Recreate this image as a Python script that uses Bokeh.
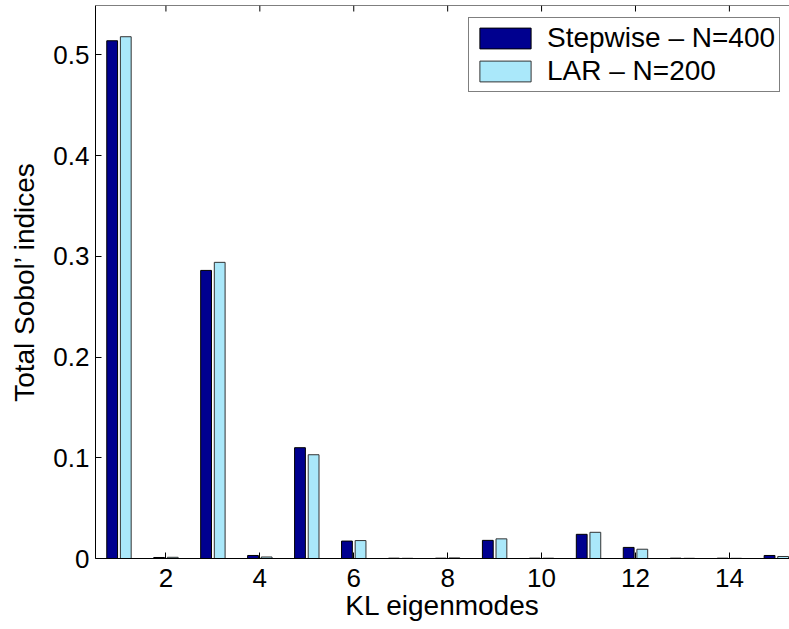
from bokeh.plotting import figure
from bokeh.models import ColumnDataSource, Range1d, FixedTicker, Legend, LegendItem, Span
from bokeh.transform import dodge
from bokeh.embed import file_html
from bokeh.resources import INLINE

modes = list(range(1, 16))
stepwise = [0.514, 0.001, 0.286, 0.003, 0.110, 0.0173, 0.0003, 0.0003, 0.018, 0.0003, 0.024, 0.011, 0.0003, 0.0003, 0.003]
lar = [0.518, 0.0012, 0.294, 0.0015, 0.103, 0.0178, 0.0002, 0.0006, 0.0195, 0.0003, 0.026, 0.0092, 0.0002, 0.0002, 0.002]
series_names = ["Stepwise \u2013 N=400", "LAR \u2013 N=200"]
xtick_vals = [2, 4, 6, 8, 10, 12, 14]
ytick_vals = [0, 0.1, 0.2, 0.3, 0.4, 0.5]
ytick_labels = ["0", "0.1", "0.2", "0.3", "0.4", "0.5"]
X_MIN, X_MAX = 0.5, 15.28
Y_MIN, Y_MAX = 0.0, 0.549

FONT = "Liberation Sans"
DARK = "#00008F"
LIGHT = "#AAE8FA"

src = ColumnDataSource(dict(x=modes, stepwise=stepwise, lar=lar))

p = figure(width=789, height=629, output_backend="svg", toolbar_location=None,
           x_range=Range1d(X_MIN, X_MAX), y_range=Range1d(Y_MIN, Y_MAX),
           x_axis_label="KL eigenmodes", y_axis_label="Total Sobol\u2019 indices",
           min_border_left=95, min_border_right=0, min_border_top=5, min_border_bottom=71)
p.outline_line_color = None
p.grid.visible = False

r1 = p.vbar(x=dodge("x", -0.145), top="stepwise", width=0.23, source=src,
            fill_color=DARK, line_color="black", line_width=1)
r2 = p.vbar(x=dodge("x", 0.145), top="lar", width=0.23, source=src,
            fill_color=LIGHT, line_color="#333333", line_width=1)

for ax in p.xaxis + p.yaxis:
    ax.axis_line_color = "black"
    ax.major_tick_line_color = "black"
    ax.minor_tick_line_color = None
    ax.major_tick_in = 6
    ax.major_tick_out = 0
    ax.major_label_text_font = FONT
    ax.major_label_text_font_size = "26px"
    ax.major_label_text_color = "black"
    ax.axis_label_text_font = FONT
    ax.axis_label_text_font_size = "28px"
    ax.axis_label_text_font_style = "normal"
    ax.axis_label_text_color = "black"

p.xaxis.ticker = FixedTicker(ticks=xtick_vals)
p.yaxis.ticker = FixedTicker(ticks=ytick_vals)
p.yaxis.major_label_overrides = {v: l for v, l in zip(ytick_vals, ytick_labels)}
p.xaxis.major_label_standoff = 10
p.xaxis.axis_label_standoff = 0
p.yaxis.major_label_standoff = 6
p.yaxis.axis_label_standoff = 10

# top border with inward ticks (box style axes)
p.add_layout(Span(location=Y_MAX, dimension="width", line_color="black", line_width=1))
tick_len = 6 / 1007.0
p.segment(x0=xtick_vals, x1=xtick_vals, y0=[Y_MAX] * len(xtick_vals),
          y1=[Y_MAX - tick_len] * len(xtick_vals), line_color="black", line_width=1)

legend = Legend(items=[LegendItem(label=series_names[0], renderers=[r1]),
                       LegendItem(label=series_names[1], renderers=[r2])],
                location=(373, 466), orientation="vertical",
                glyph_width=64, glyph_height=26, label_height=26, spacing=1,
                padding=4, margin=0, label_standoff=10,
                label_text_font=FONT, label_text_font_size="28px", label_text_color="black",
                border_line_color="black", border_line_width=1, background_fill_alpha=1)
p.add_layout(legend)

open("out.html", "w").write(file_html(p, INLINE))
